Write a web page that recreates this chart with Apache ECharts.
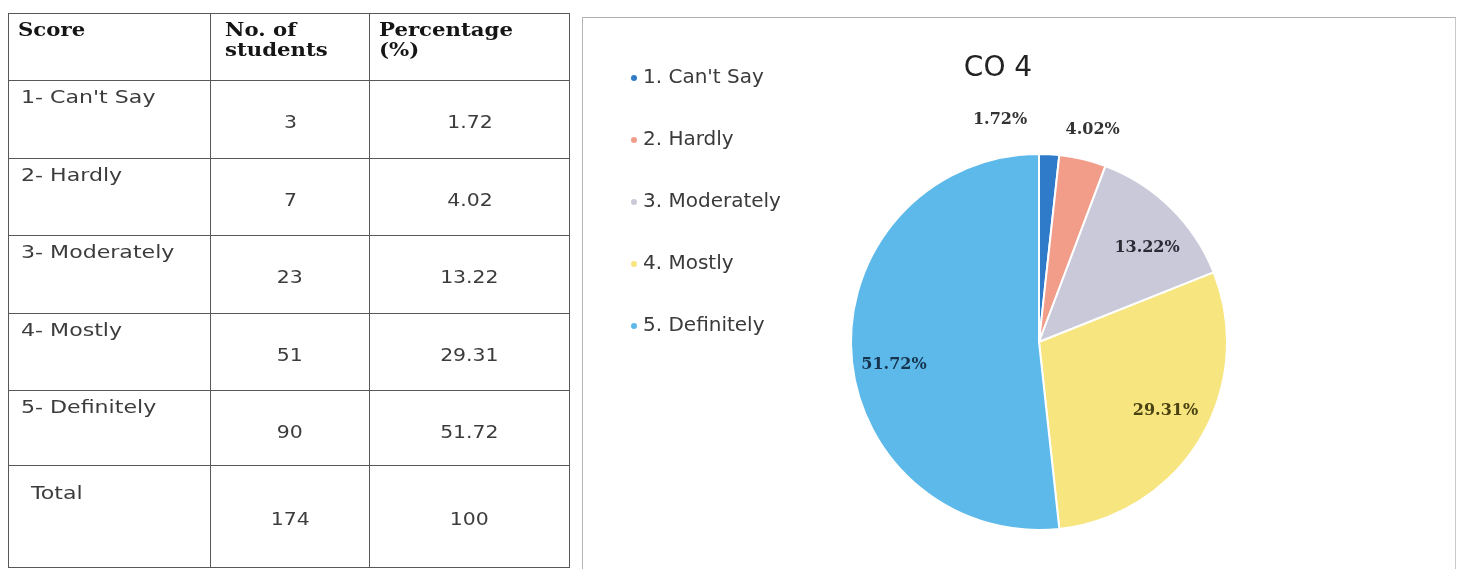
<!DOCTYPE html>
<html>
<head>
<meta charset="utf-8">
<script src="https://cdn.jsdelivr.net/npm/echarts@6/dist/echarts.min.js"></script>
<style>
  html, body { margin:0; padding:0; background:#fff; }
  body { width:1460px; height:569px; overflow:hidden; position:relative; }
  #frame { position:absolute; left:582px; top:17px; width:872px; height:560px;
           border-left:1.5px solid #b5b5b5; border-right:1.5px solid #c8c8c8; border-top:1.5px solid #b0b0b0; }
  #chart { position:absolute; left:0; top:0; width:1460px; height:569px; z-index:1; }
  #tbl { position:absolute; left:8px; top:13px; border-collapse:collapse; table-layout:fixed; z-index:2; }
  #tbl td { border:1.6px solid #585858; vertical-align:top; padding:0; overflow:hidden; white-space:nowrap; }
  #tbl td > div { box-sizing:border-box; overflow:hidden; }
  .hd { font-family:'DejaVu Serif', serif; font-weight:bold; font-size:18px; line-height:20px; color:#151515;
        display:inline-block; transform:scaleX(1.18); transform-origin:left top; }
  .lb { font-family:'DejaVu Sans', sans-serif; font-size:17px; line-height:20px; color:#3c3c3c;
        display:inline-block; transform:scaleX(1.3); transform-origin:left top; }
  .nm { font-family:'DejaVu Sans', sans-serif; font-size:17px; line-height:20px; color:#3c3c3c;
        display:inline-block; transform:scaleX(1.2); transform-origin:center top; }
</style>
</head>
<body>
<div id="frame"></div>
<div id="chart"></div>
<table id="tbl"></table>
<script>
// ---------------- data ----------------
const headerLines = [['Score'], ['No. of', 'students'], ['Percentage', '(%)']];
const scoreLabels = ["1- Can't Say", "2- Hardly", "3- Moderately", "4- Mostly", "5- Definitely"];
const legendNames = ["1. Can't Say", "2. Hardly", "3. Moderately", "4. Mostly", "5. Definitely"];
const students = [3, 7, 23, 51, 90];
const percentages = [1.72, 4.02, 13.22, 29.31, 51.72];
const totalLabel = 'Total';
const totalStudents = 174;
const totalPercent = 100;
const chartTitle = 'CO 4';

// ---------------- styles ----------------
const sliceColors = ['#2f7bc9', '#f19d8a', '#c9c9da', '#f7e57f', '#5cb9e9'];
const labelColors = ['#333333', '#333333', '#2b2b35', '#4a4212', '#17344f'];
const colWidths = [202, 159, 200];
const rowHeights = [67, 78, 77, 78, 77, 75, 102];
const labelRadiusFactor = [1.186, 1.149, 0.748, 0.751, 0.765];
const labelAngleNudge = [-13.2, 0.75, 4.4, -2.4, -5.9];
const pieRadius = 188;

// ---------------- table ----------------
const tbl = document.getElementById('tbl');
const cg = document.createElement('colgroup');
colWidths.forEach(w => { const c = document.createElement('col'); c.style.width = w + 'px'; cg.appendChild(c); });
tbl.appendChild(cg);

function addRow(h, cells) {
  const tr = document.createElement('tr');
  cells.forEach(c => {
    const td = document.createElement('td');
    const d = document.createElement('div');
    d.style.height = (h - 1) + 'px';
    d.style.paddingTop = c.pt + 'px';
    d.style.paddingLeft = (c.pl || 0) + 'px';
    d.style.textAlign = c.align || 'left';
    d.innerHTML = c.html;
    td.appendChild(d);
    tr.appendChild(td);
  });
  tbl.appendChild(tr);
}
addRow(rowHeights[0], [
  { html: '<span class="hd">' + headerLines[0].join('<br>') + '</span>', pt: 6, pl: 9 },
  { html: '<span class="hd">' + headerLines[1].join('<br>') + '</span>', pt: 6, pl: 14 },
  { html: '<span class="hd">' + headerLines[2].join('<br>') + '</span>', pt: 6, pl: 9 }
]);
scoreLabels.forEach((s, i) => {
  addRow(rowHeights[i + 1], [
    { html: '<span class="lb">' + s + '</span>', pt: 6, pl: 12 },
    { html: '<span class="nm">' + students[i] + '</span>', pt: 31, align: 'center' },
    { html: '<span class="nm">' + percentages[i].toFixed(2) + '</span>', pt: 31, align: 'center' }
  ]);
});
addRow(rowHeights[6], [
  { html: '<span class="lb">' + totalLabel + '</span>', pt: 17, pl: 22 },
  { html: '<span class="nm">' + totalStudents + '</span>', pt: 43, align: 'center' },
  { html: '<span class="nm">' + totalPercent + '</span>', pt: 43, align: 'center' }
]);

// ---------------- chart ----------------
const total = students.reduce((a, b) => a + b, 0);
const midAngles = [];
let cum = 0;
students.forEach(v => { midAngles.push((cum + v / 2) / total * 360); cum += v; });

const chart = echarts.init(document.getElementById('chart'), null, { renderer: 'canvas' });
chart.setOption({
  animation: false,
  backgroundColor: 'transparent',
  title: {
    text: chartTitle, left: 993, top: 50, textAlign: 'center',
    textStyle: { fontFamily: 'DejaVu Sans', fontWeight: 'normal', fontSize: 28, color: '#222' }
  },
  legend: {
    orient: 'vertical', left: 624, top: 63, icon: 'circle',
    itemWidth: 8, itemHeight: 8, itemGap: 42,
    data: legendNames,
    textStyle: { fontFamily: 'DejaVu Sans', fontSize: 20, color: '#3a3a3a' }
  },
  color: sliceColors,
  series: [{
    type: 'pie',
    center: [1039, 342],
    radius: pieRadius,
    startAngle: 90,
    clockwise: true,
    avoidLabelOverlap: false,
    emphasis: { disabled: true },
    itemStyle: { borderColor: '#ffffff', borderWidth: 2 },
    data: legendNames.map((n, i) => ({
      name: n, value: students[i],
      label: { color: labelColors[i] }
    })),
    label: {
      show: true, position: 'inside',
      formatter: p => percentages[p.dataIndex].toFixed(2) + '%',
      fontFamily: 'DejaVu Serif', fontWeight: 'bold', fontSize: 16
    },
    labelLine: { show: false },
    labelLayout: function (p) {
      const i = p.dataIndex;
      const m = midAngles[i] * Math.PI / 180;
      const a = (midAngles[i] + labelAngleNudge[i]) * Math.PI / 180;
      const r0 = pieRadius * 0.5;
      const r1 = pieRadius * labelRadiusFactor[i];
      return {
        dx: r1 * Math.sin(a) - r0 * Math.sin(m),
        dy: -r1 * Math.cos(a) + r0 * Math.cos(m)
      };
    }
  }]
});
</script>
</body>
</html>
